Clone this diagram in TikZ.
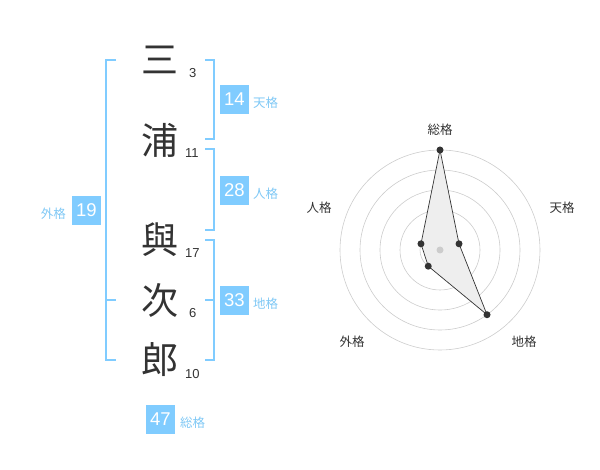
\documentclass[tikz,border=0pt]{standalone}
\usepackage{fontspec}
\setmainfont{Liberation Sans}
\newfontfamily\cjk{Noto Sans CJK JP}
\usetikzlibrary{calc}
\definecolor{kblue}{HTML}{80CCFF}
\definecolor{klabel}{HTML}{7FC8F5}
\definecolor{kdark}{HTML}{333333}
\definecolor{kring}{HTML}{CCCCCC}
\definecolor{kfill}{HTML}{EEEEEE}
\begin{document}
\begin{tikzpicture}[x=1pt,y=-1pt,
  bigchar/.style={font=\cjk\fontsize{37}{37}\selectfont,text=kdark,inner sep=0},
  strokes/.style={font=\fontsize{13}{13}\selectfont,text=kdark,inner sep=0,anchor=base west},
  numbox/.style={fill=kblue,text=white,minimum width=29pt,minimum height=29pt,inner sep=0,font=\fontsize{18.5}{18.5}\selectfont},
  kaku/.style={font=\cjk\fontsize{12.5}{12.5}\selectfont,text=klabel,inner sep=0},
  brk/.style={draw=kblue,line width=1.8pt},
  ring/.style={draw=kring,line width=0.6pt},
  rlabel/.style={font=\cjk\fontsize{12.5}{12.5}\selectfont,text=kdark,inner sep=0},
  dot/.style={circle,fill=kdark,inner sep=0,minimum size=7pt}]
\useasboundingbox (0,0) rectangle (600,470);
% characters
\node[bigchar] (c1) at (160,60) {三};
\node[bigchar] (c2) at (160,140) {浦};
\node[bigchar] (c3) at (160,240) {與};
\node[bigchar] (c4) at (160,300) {次};
\node[bigchar] (c5) at (160,360) {郎};
\node[strokes] (n1) at (189,78) {3};
\node[strokes] (n2) at (185,158) {11};
\node[strokes] (n3) at (185,258) {17};
\node[strokes] (n4) at (189,318) {6};
\node[strokes] (n5) at (185,378) {10};
% brackets
\coordinate (l1) at (116,60); \coordinate (l2) at (106,60);
\coordinate (l3) at (106,360); \coordinate (l4) at (116,360);
\coordinate (lm1) at (106,300); \coordinate (lm2) at (116,300);
\draw[brk] (l1) -- (l2) -- (l3) -- (l4);
\draw[brk] (lm1) -- (lm2);
\coordinate (t1) at (205,60); \coordinate (t2) at (214,60);
\coordinate (t3) at (214,139); \coordinate (t4) at (205,139);
\draw[brk] (t1) -- (t2) -- (t3) -- (t4);
\coordinate (j1) at (205,149); \coordinate (j2) at (214,149);
\coordinate (j3) at (214,230); \coordinate (j4) at (205,230);
\draw[brk] (j1) -- (j2) -- (j3) -- (j4);
\coordinate (d1) at (205,240); \coordinate (d2) at (214,240);
\coordinate (d3) at (214,360); \coordinate (d4) at (205,360);
\coordinate (dm1) at (205,300); \coordinate (dm2) at (214,300);
\draw[brk] (d1) -- (d2) -- (d3) -- (d4);
\draw[brk] (dm1) -- (dm2);
% boxes
\node[numbox] (b14) at (234.5,99.5) {14};
\node[kaku,anchor=west] (k14) at (253,103) {天格};
\node[numbox] (b28) at (234.5,190.5) {28};
\node[kaku,anchor=west] (k28) at (253,194) {人格};
\node[numbox] (b33) at (234.5,300.5) {33};
\node[kaku,anchor=west] (k33) at (253,304) {地格};
\node[numbox] (b19) at (86.5,210.5) {19};
\node[kaku,anchor=east] (k19) at (66,214) {外格};
\node[numbox] (b47) at (160.5,419) {47};
\node[kaku,anchor=west] (k47) at (180,423) {総格};
% radar
\coordinate (o) at (440,250);
\foreach \r in {20,40,60,80,100} \draw[ring] (o) circle[radius=\r];
\coordinate (ps) at ($(o)+(0,-100)$);
\path (o) ++(-18:20) coordinate (pt);
\path (o) ++(54:80) coordinate (pc);
\path (o) ++(126:20) coordinate (pg);
\path (o) ++(198:20) coordinate (pj);
\draw[fill=kfill,draw=kdark,line width=0.7pt] (ps) -- (pt) -- (pc) -- (pg) -- (pj) -- cycle;
\node[circle,fill=kring,inner sep=0,minimum size=7pt] (oc) at (o) {};
\foreach \p in {ps,pt,pc,pg,pj} \node[dot] at (\p) {};
\node[rlabel] (rs) at (440,130) {総格};
\node[rlabel] (rt) at (562,208) {天格};
\node[rlabel] (rc) at (524,342) {地格};
\node[rlabel] (rg) at (352,342) {外格};
\node[rlabel] (rj) at (319,208) {人格};
\end{tikzpicture}
\end{document}
